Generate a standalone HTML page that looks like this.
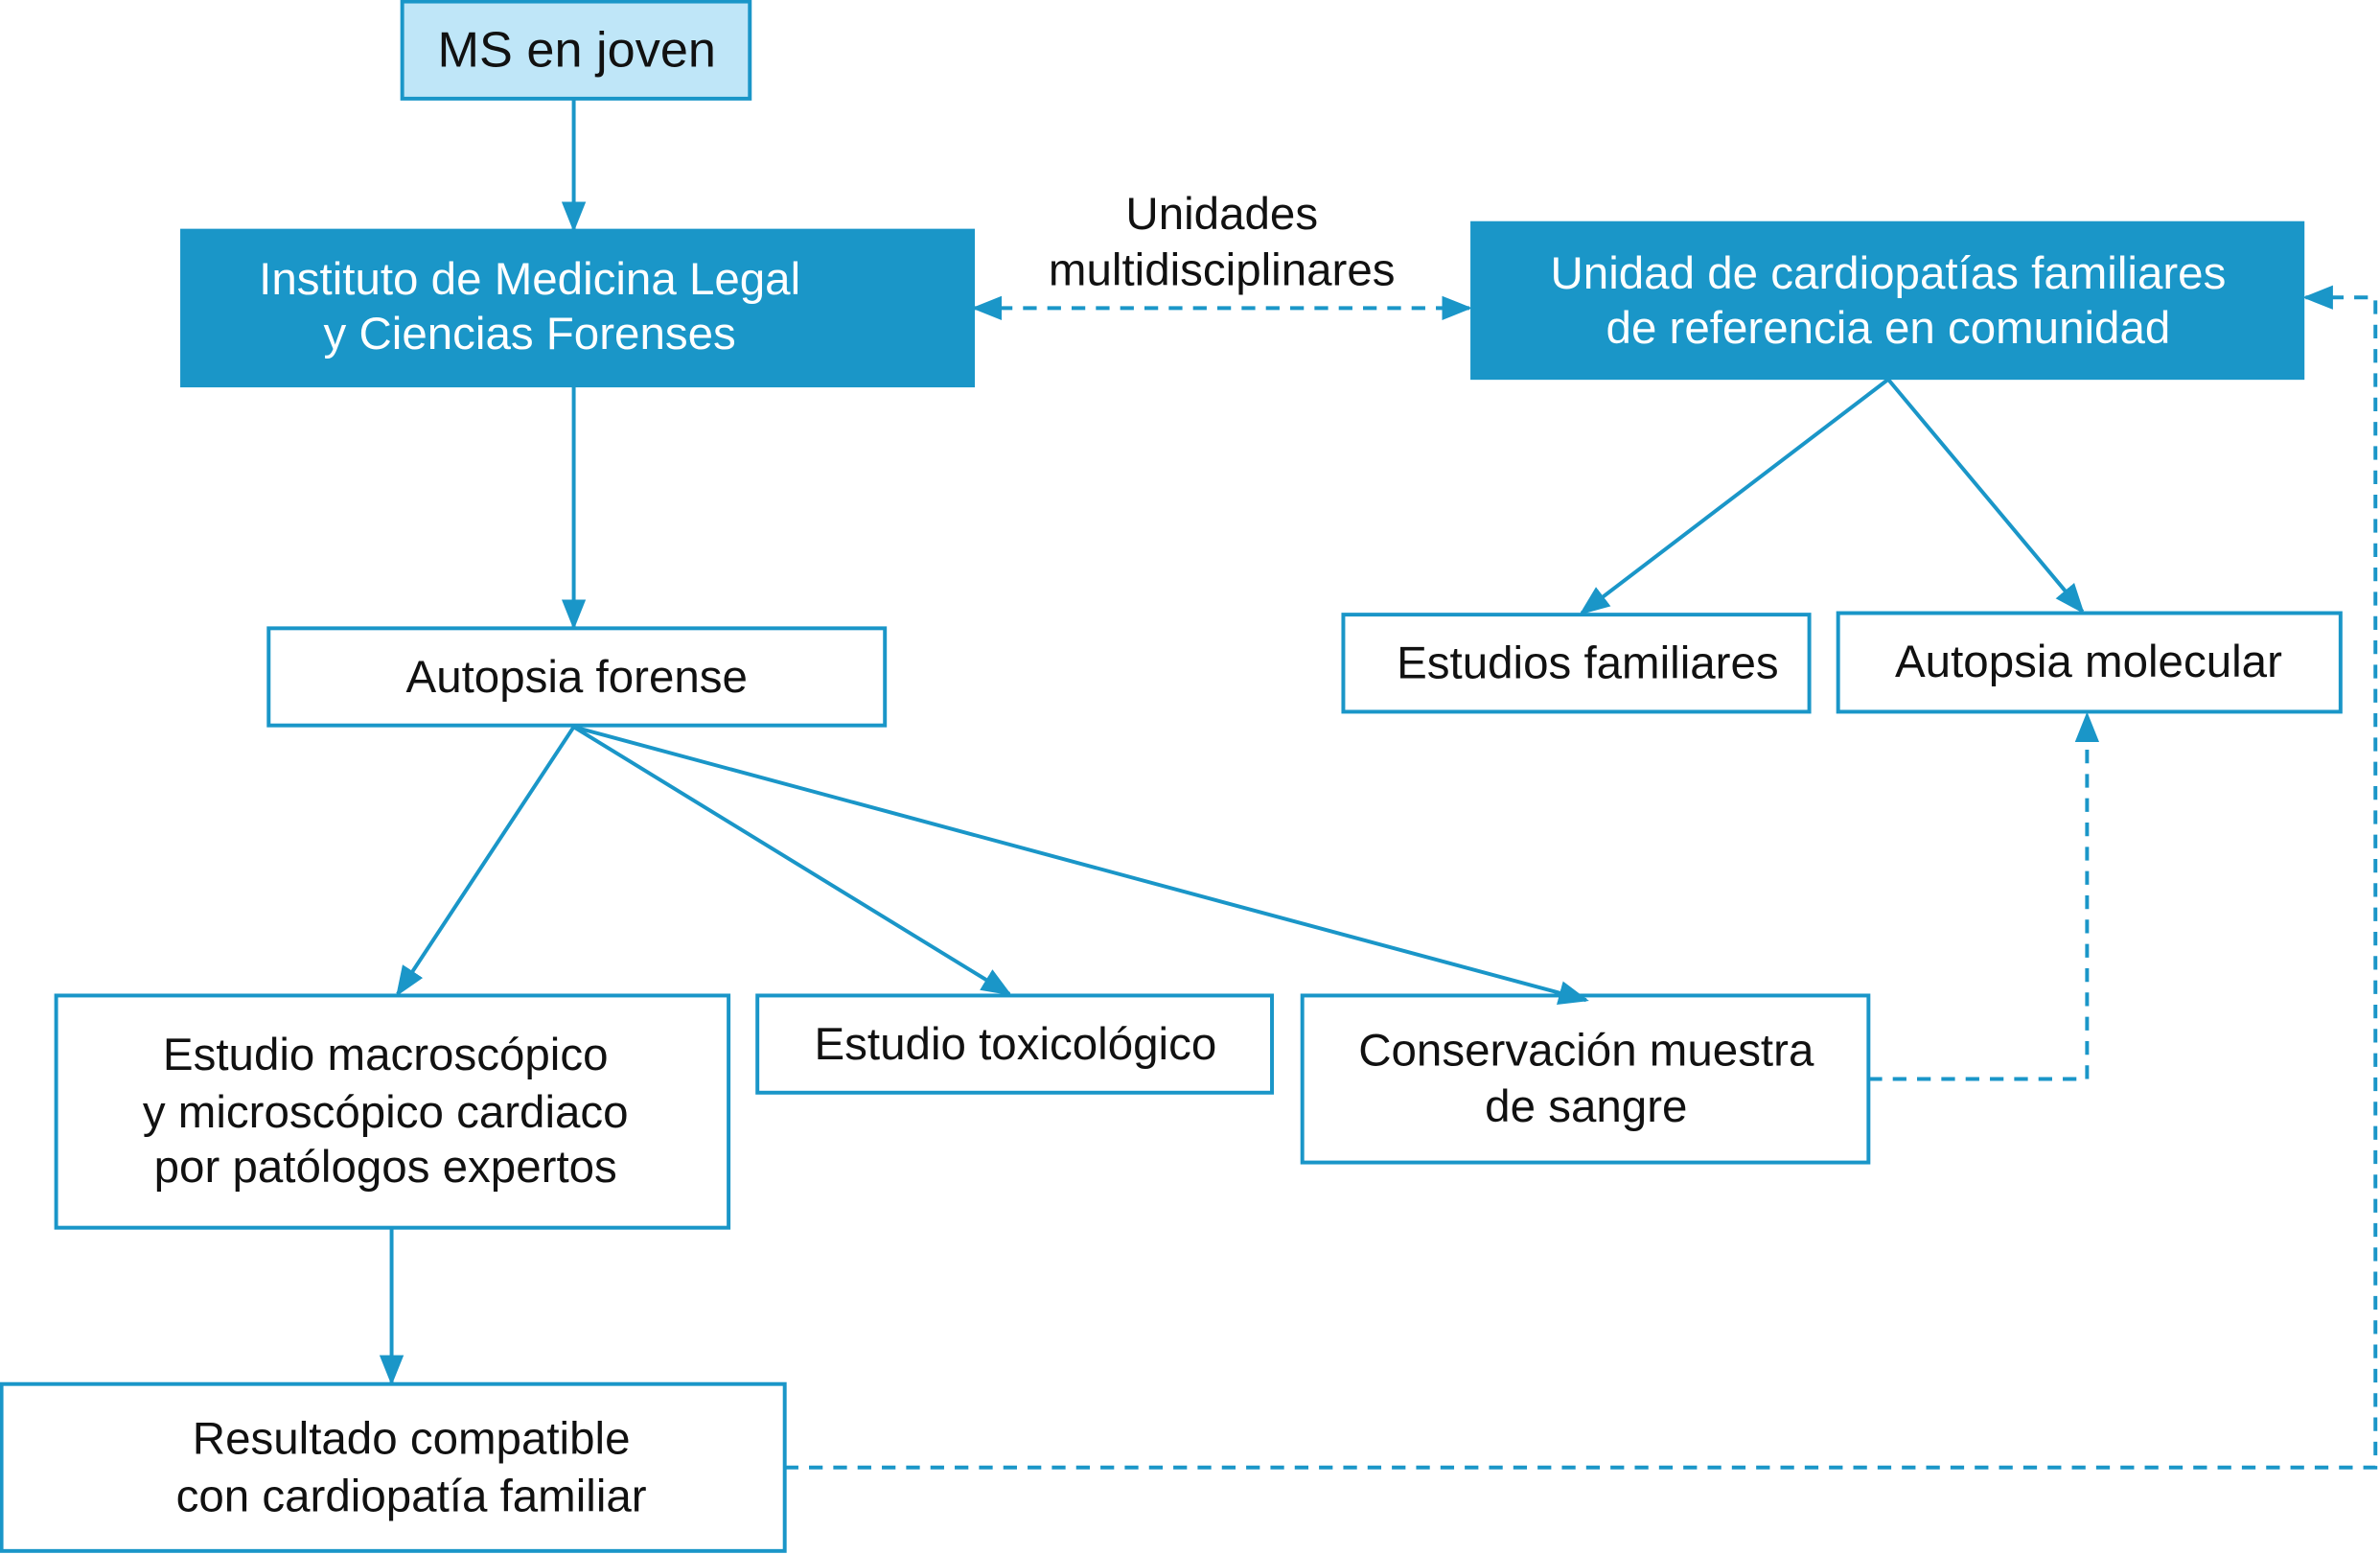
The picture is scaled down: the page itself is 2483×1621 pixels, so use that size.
<!DOCTYPE html>
<html><head><meta charset="utf-8"><style>
html,body{margin:0;padding:0;background:#fff;}
svg{display:block;}
text{font-family:"Liberation Sans",Arial,Helvetica,sans-serif;font-size:30px;fill:#111;text-anchor:middle;}
.w{fill:#fff;}
</style></head><body>
<svg width="2483" height="1621" viewBox="0 0 1568 1024" preserveAspectRatio="none" xmlns="http://www.w3.org/2000/svg">
<defs>
<marker id="b" markerWidth="20" markerHeight="20" refX="18" refY="10" orient="auto" markerUnits="userSpaceOnUse" viewBox="0 0 20 20">
<path d="M0,2 L20,10 L0,18 z" fill="#1a96c8"/></marker>
<marker id="s" markerWidth="20" markerHeight="20" refX="18" refY="10" orient="auto-start-reverse" markerUnits="userSpaceOnUse" viewBox="0 0 20 20">
<path d="M0,2 L20,10 L0,18 z" fill="#1a96c8"/></marker>
</defs>
<g fill="none" stroke="#1a96c8" stroke-width="2.5">
<rect x="265" y="1" width="229" height="64" fill="#bfe6f8"/>
<rect x="120" y="152" width="521" height="102" fill="#1a96c8"/>
<rect x="970" y="147" width="547" height="102" fill="#1a96c8"/>
<rect x="177" y="414" width="406" height="64"/>
<rect x="885" y="405" width="307" height="64"/>
<rect x="1211" y="404" width="331" height="65"/>
<rect x="37" y="656" width="443" height="153"/>
<rect x="499" y="656" width="339" height="64"/>
<rect x="858" y="656" width="373" height="110"/>
<rect x="1" y="912" width="516" height="110"/>
<line x1="378" y1="65" x2="378" y2="151" marker-end="url(#b)"/>
<line x1="378" y1="254" x2="378" y2="413" marker-end="url(#b)"/>
<line x1="1244" y1="250" x2="1042" y2="404" marker-end="url(#b)"/>
<line x1="1244" y1="250" x2="1372" y2="403" marker-end="url(#b)"/>
<line x1="378" y1="479" x2="262" y2="655" marker-end="url(#b)"/>
<line x1="378" y1="479" x2="665" y2="655" marker-end="url(#b)"/>
<line x1="378" y1="479" x2="1045" y2="659" marker-end="url(#b)"/>
<line x1="258" y1="809" x2="258" y2="911" marker-end="url(#b)"/>
<g stroke-dasharray="9,7">
<line x1="642" y1="203" x2="968" y2="203" marker-start="url(#s)" marker-end="url(#s)"/>
<polyline points="1231,711 1375,711 1375,471" marker-end="url(#b)"/>
<polyline points="517,967 1565,967 1565,196 1519,196" marker-end="url(#b)"/>
</g>
</g>
<text x="380" y="44" style="font-size:33px">MS en joven</text>
<text class="w" x="349" y="194">Instituto de Medicina Legal</text>
<text class="w" x="349" y="230">y Ciencias Forenses</text>
<text class="w" x="1244" y="190">Unidad de cardiopatías familiares</text>
<text class="w" x="1244" y="226">de referencia en comunidad</text>
<text x="805" y="151">Unidades</text>
<text x="805" y="188">multidisciplinares</text>
<text x="380" y="456">Autopsia forense</text>
<text x="1046" y="447">Estudios familiares</text>
<text x="1376" y="446">Autopsia molecular</text>
<text x="254" y="705">Estudio macroscópico</text>
<text x="254" y="743">y microscópico cardiaco</text>
<text x="254" y="779">por patólogos expertos</text>
<text x="669" y="698">Estudio toxicológico</text>
<text x="1045" y="702">Conservación muestra</text>
<text x="1045" y="739">de sangre</text>
<text x="271" y="958">Resultado compatible</text>
<text x="271" y="996">con cardiopatía familiar</text>
</svg>
</body></html>
